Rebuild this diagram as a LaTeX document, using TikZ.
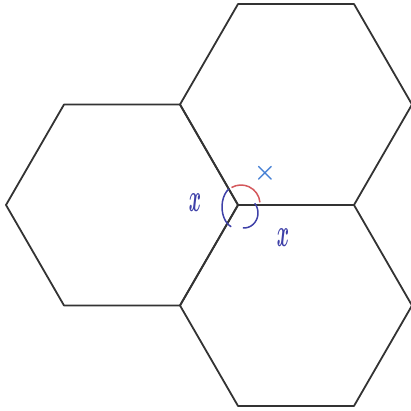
\documentclass[tikz,border=0pt]{standalone}
\usepackage{xcolor}
\definecolor{markred}{RGB}{212, 88, 92}
\definecolor{markblue}{RGB}{62, 64, 168}
\definecolor{crossblue}{RGB}{70, 128, 212}
\usepackage{tikz}
\usetikzlibrary{arrows.meta, positioning, calc}

\begin{document}
\begin{tikzpicture}[x=1pt, y=1pt, >=Stealth,
    hexline/.style={line width=1.8pt, color=black!80},
    angred/.style={line width=1.5pt, color=markred},
    angblue/.style={line width=1.5pt, color=markblue}]
    \useasboundingbox (0,0) rectangle (411,411);
    \clip (0,0) rectangle (411,411);

    \def\side{116}
    \coordinate (V) at (238,206);
    \coordinate (HL) at (122,206);
    \coordinate (HT) at (296,306.5);
    \coordinate (HB) at (296,105.5);

    % the three hexagons meeting at V
    \foreach \c in {HL, HT, HB}
        \draw[hexline, line join=round] (\c) +(0:\side)
            \foreach \a in {60,120,...,300} { -- +(\a:\side) } -- cycle;

    % angle marks at V
    \coordinate (AR) at (241,207);
    \coordinate (AL) at (236,204);
    \coordinate (AB) at (244,198);
    \draw[angred] ([shift={(5:19)}]AR) arc[start angle=5, end angle=120, radius=19];
    \draw[angblue] ([shift={(120:14 and 21)}]AL) arc[start angle=120, end angle=250, x radius=14, y radius=21];
    \draw[angblue] ([shift={(40:14 and 15)}]AB) arc[start angle=40, end angle=-95, x radius=14, y radius=15];

    \node[color=crossblue, font=\fontsize{26}{26}\selectfont\boldmath] (cross) at (265,238) {$\times$};
    \node[color=markblue, font=\fontsize{34}{34}\selectfont\boldmath] (xleft) at (195,208) {\scalebox{0.75}[1.6]{$x$}};
    \node[color=markblue, font=\fontsize{34}{34}\selectfont\boldmath] (xright) at (283,173) {\scalebox{0.75}[1.6]{$x$}};
\end{tikzpicture}
\end{document}
